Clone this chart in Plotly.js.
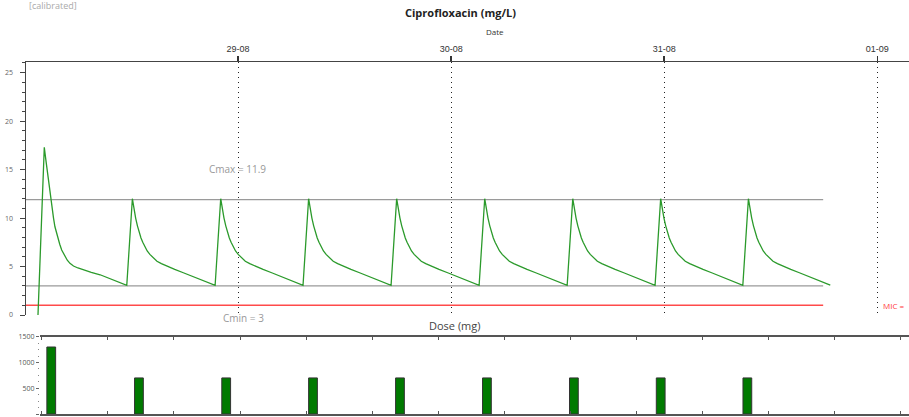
<!DOCTYPE html>
<html>
<head>
<meta charset="utf-8">
<script src="https://cdn.plot.ly/plotly-3.0.1.min.js"></script>
<style>html,body{margin:0;padding:0;background:#fff;}#chart{width:909px;height:417px;}</style>
</head>
<body>
<div id="chart"></div>
<script>
// ---- data ----
const doseTimes = ['2023-08-28 01:28', '2023-08-28 11:28', '2023-08-28 21:25', '2023-08-29 07:19',
                   '2023-08-29 17:14', '2023-08-30 03:09', '2023-08-30 13:04', '2023-08-30 22:58',
                   '2023-08-31 08:51'];
const doseAmounts = [1300, 700, 700, 700, 700, 700, 700, 700, 700];

// concentration profile after the first (loading) dose: hours after dose, mg/L
const firstCycleHours = [0, 0.71, 0.9, 1.1, 1.35, 1.6, 1.75, 1.91, 2.2, 2.45, 2.67, 3.0, 3.3, 3.6, 4.0, 4.5, 5.1, 6.0, 7.0, 8.1, 9.24, 9.9];
const firstCycleConc  = [0, 17.3, 15.9, 14.4, 12.9, 11.1, 10.0, 9.1, 8.0, 7.3, 6.7, 6.1, 5.65, 5.33, 5.05, 4.85, 4.64, 4.4, 4.15, 3.75, 3.32, 3.07];

// concentration profile after each maintenance dose: hours after dose, mg/L
const cycleHours = [0, 0.63, 0.8, 1.0, 1.2, 1.4, 1.6, 1.8, 2.06, 2.3, 2.6, 3.0, 3.4, 3.9, 4.5, 5.4, 6.37, 7.3, 8.26, 9.1, 9.85];
const cycleConc  = [3.05, 12.0, 11.0, 10.0, 9.2, 8.5, 7.95, 7.5, 7.0, 6.6, 6.25, 5.85, 5.55, 5.3, 5.05, 4.7, 4.36, 4.03, 3.71, 3.38, 3.08];

const cmax = 11.9, cmin = 3, mic = 1;
const levelStart = '2023-08-28 00:07';
const levelEnd = '2023-08-31 17:54';

const dayTickStart = '2023-08-28';
const topRange = ['2023-08-28 00:07', '2023-09-01 03:34'];
const bottomRange = ['2023-08-28 00:41', '2023-09-01 03:47'];

// ---- helpers ----
function toMs(s) { return Date.parse(s.replace(' ', 'T') + ':00Z'); }
function toStr(ms) { return new Date(ms).toISOString().slice(0, 19).replace('T', ' '); }

const curveX = [], curveY = [];
doseTimes.forEach((d, i) => {
  const hrs = i === 0 ? firstCycleHours : cycleHours;
  const conc = i === 0 ? firstCycleConc : cycleConc;
  const t0 = toMs(d);
  hrs.forEach((h, k) => { curveX.push(toStr(t0 + h * 3600000)); curveY.push(conc[k]); });
});

const H = 417, W = 909;
const traces = [
  {x: [levelStart, levelEnd], y: [cmax, cmax], mode: 'lines', line: {color: '#9a9a9a', width: 1.3}, xaxis: 'x', yaxis: 'y', hoverinfo: 'skip'},
  {x: [levelStart, levelEnd], y: [cmin, cmin], mode: 'lines', line: {color: '#9a9a9a', width: 1.3}, xaxis: 'x', yaxis: 'y', hoverinfo: 'skip'},
  {x: [levelStart, levelEnd], y: [mic, mic], mode: 'lines', line: {color: '#ff4a4a', width: 1.5}, xaxis: 'x', yaxis: 'y', hoverinfo: 'skip'},
  {x: curveX, y: curveY, mode: 'lines', line: {color: '#2b9a2b', width: 1.3}, xaxis: 'x', yaxis: 'y'},
  {type: 'bar', x: doseTimes, y: doseAmounts, width: 3600000, offset: 0,
   marker: {color: '#007a00', line: {color: '#333', width: 1}}, xaxis: 'x2', yaxis: 'y2'}
];

const layout = {
  width: W, height: H,
  margin: {l: 0, r: 0, t: 0, b: 0},
  paper_bgcolor: '#fff', plot_bgcolor: '#fff',
  showlegend: false,
  font: {family: 'Open Sans, sans-serif', color: '#444'},
  xaxis: {
    type: 'date', domain: [26 / W, 1], range: topRange, side: 'top', anchor: 'y',
    showline: true, linecolor: '#444', linewidth: 1.5,
    ticks: 'outside', ticklen: 5, tickcolor: '#333', tickwidth: 1.5,
    tickformat: '%d-%m', dtick: 86400000, tick0: dayTickStart,
    tickfont: {family: 'Liberation Sans, Arial, sans-serif', size: 9, color: '#333'},
    showgrid: true, gridcolor: '#222', griddash: '1px,4px', gridwidth: 1, zeroline: false
  },
  yaxis: {
    domain: [1 - 315 / H, 1 - 62 / H], range: [0, 26.1], anchor: 'x',
    showline: true, linecolor: '#444', linewidth: 1.5,
    ticks: 'outside', ticklen: 5, tickcolor: '#444', dtick: 5, ticklabelstandoff: 5,
    minor: {dtick: 1, ticks: 'outside', ticklen: 3, tickcolor: '#444'},
    tickfont: {size: 7, color: '#666'}, showgrid: false, zeroline: false
  },
  xaxis2: {
    type: 'date', domain: [40 / W, 1], range: bottomRange, anchor: 'y2',
    showline: true, mirror: 'ticks', linecolor: '#555', linewidth: 1.5,
    ticks: 'inside', ticklen: 3, tickcolor: '#555',
    tick0: '2023-08-28 08:26', dtick: 27108000,
    showticklabels: false, showgrid: false, zeroline: false
  },
  yaxis2: {
    domain: [1 - 414 / H, 1 - 336.7 / H], range: [0, 1500], anchor: 'x2',
    showline: false, ticks: 'outside', ticklen: 3, tickcolor: '#666', dtick: 500,
    minor: {dtick: 125, ticks: 'outside', ticklen: 1.5, tickcolor: '#888'},
    tickfont: {size: 7, color: '#555'}, showgrid: false, zeroline: false
  },
  annotations: [
    {text: '[calibrated]', xref: 'paper', yref: 'paper', x: 27 / W, y: 1 - 5 / H, xanchor: 'left', yanchor: 'middle',
     showarrow: false, font: {size: 9, color: '#aaa'}},
    {text: '<b>Ciprofloxacin (mg/L)</b>', xref: 'paper', yref: 'paper', x: 461 / W, y: 1 - 12 / H, xanchor: 'center', yanchor: 'middle',
     showarrow: false, font: {size: 11, color: '#222'}},
    {text: 'Date', xref: 'paper', yref: 'paper', x: 495 / W, y: 1 - 32 / H, xanchor: 'center', yanchor: 'middle',
     showarrow: false, font: {size: 8, color: '#333'}},
    {text: 'Cmax = 11.9', xref: 'paper', yref: 'paper', x: 237 / W, y: 1 - 169 / H, xanchor: 'center', yanchor: 'middle',
     showarrow: false, font: {size: 10, color: '#999'}},
    {text: 'Cmin = 3', xref: 'paper', yref: 'paper', x: 243 / W, y: 1 - 317.5 / H, xanchor: 'center', yanchor: 'middle',
     showarrow: false, font: {size: 10, color: '#999'}},
    {text: 'MIC =', xref: 'paper', yref: 'paper', x: 881 / W, y: 1 - 305 / H, xanchor: 'left', yanchor: 'middle',
     showarrow: false, font: {size: 8, color: '#ff3b3b'}},
    {text: 'Dose (mg)', xref: 'paper', yref: 'paper', x: 455 / W, y: 1 - 325 / H, xanchor: 'center', yanchor: 'middle',
     showarrow: false, font: {size: 11, color: '#444'}}
  ]
};

Plotly.newPlot('chart', traces, layout, {staticPlot: true, displayModeBar: false});
</script>
</body>
</html>
